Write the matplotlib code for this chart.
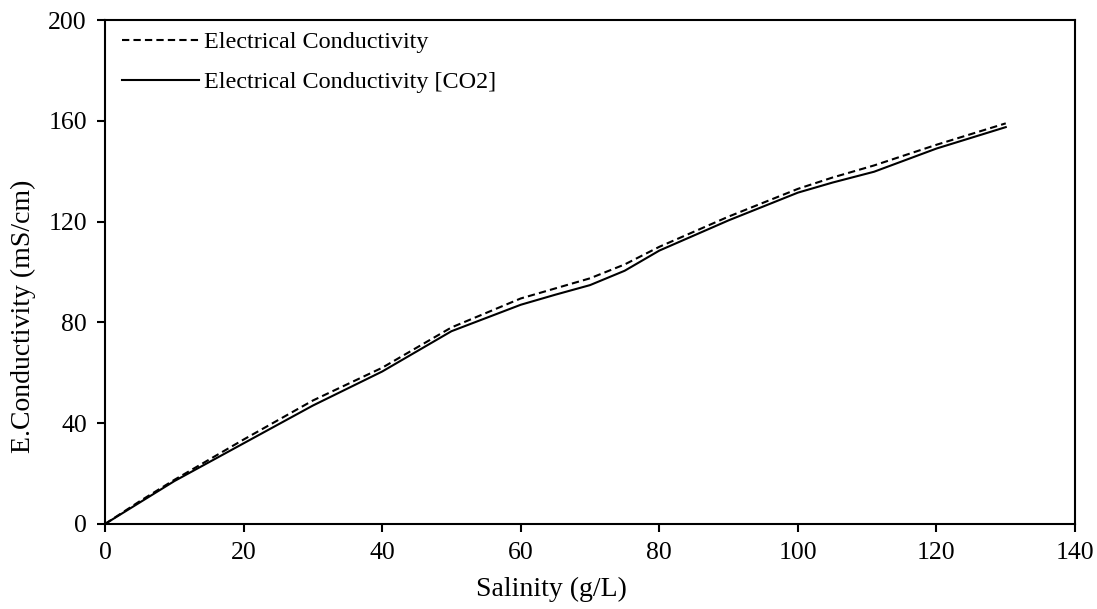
import matplotlib
matplotlib.use("Agg")
import matplotlib.pyplot as plt

plt.rcParams['font.family'] = ['Liberation Serif', 'DejaVu Serif']

salinity = [0, 5, 10, 20, 30, 40, 50, 60, 65, 70, 75, 80, 90, 100, 105, 111, 120, 130]
ec = [0, 9, 17.5, 33.5, 49, 62, 78, 89.5, 93.5, 97.5, 103, 110, 122, 133, 137.5, 142.3, 150.5, 159]
ec_co2 = [0, 8.5, 17, 32, 47, 60.5, 76.5, 87, 91, 94.8, 100.5, 108.5, 120.5, 131.5, 135.5, 139.8, 149, 157.5]

fig = plt.figure(figsize=(10.97, 6.09), dpi=100)
ax = fig.add_axes([0.0957, 0.1396, 0.8843, 0.8275])

ax.plot(salinity, ec, color='black', lw=1.5, dashes=(3.5, 2), label='Electrical Conductivity')
ax.plot(salinity, ec_co2, color='black', lw=1.5, label='Electrical Conductivity [CO2]')

ax.set_xlim(0, 140)
ax.set_ylim(0, 200)
ax.set_xticks(range(0, 141, 20))
ax.set_yticks(range(0, 201, 40))
ax.tick_params(direction='out', length=6, width=1.5, labelsize=18.5, pad=7)
for s in ax.spines.values():
    s.set_linewidth(1.5)

# axis titles centred on the figure, like the original
fig.text(0.503, 0.012, 'Salinity (g/L)', ha='center', va='bottom', fontsize=20)
fig.text(0.01, 0.48, 'E.Conductivity (mS/cm)', ha='left', va='center',
         rotation=90, fontsize=20)

ax.legend(loc='upper left', bbox_to_anchor=(0.0175, 0.978), frameon=False,
          fontsize=17.4, handlelength=3.2, handletextpad=0.2, labelspacing=0.75,
          borderpad=0, borderaxespad=0)

fig.savefig('out.png', dpi=100)
